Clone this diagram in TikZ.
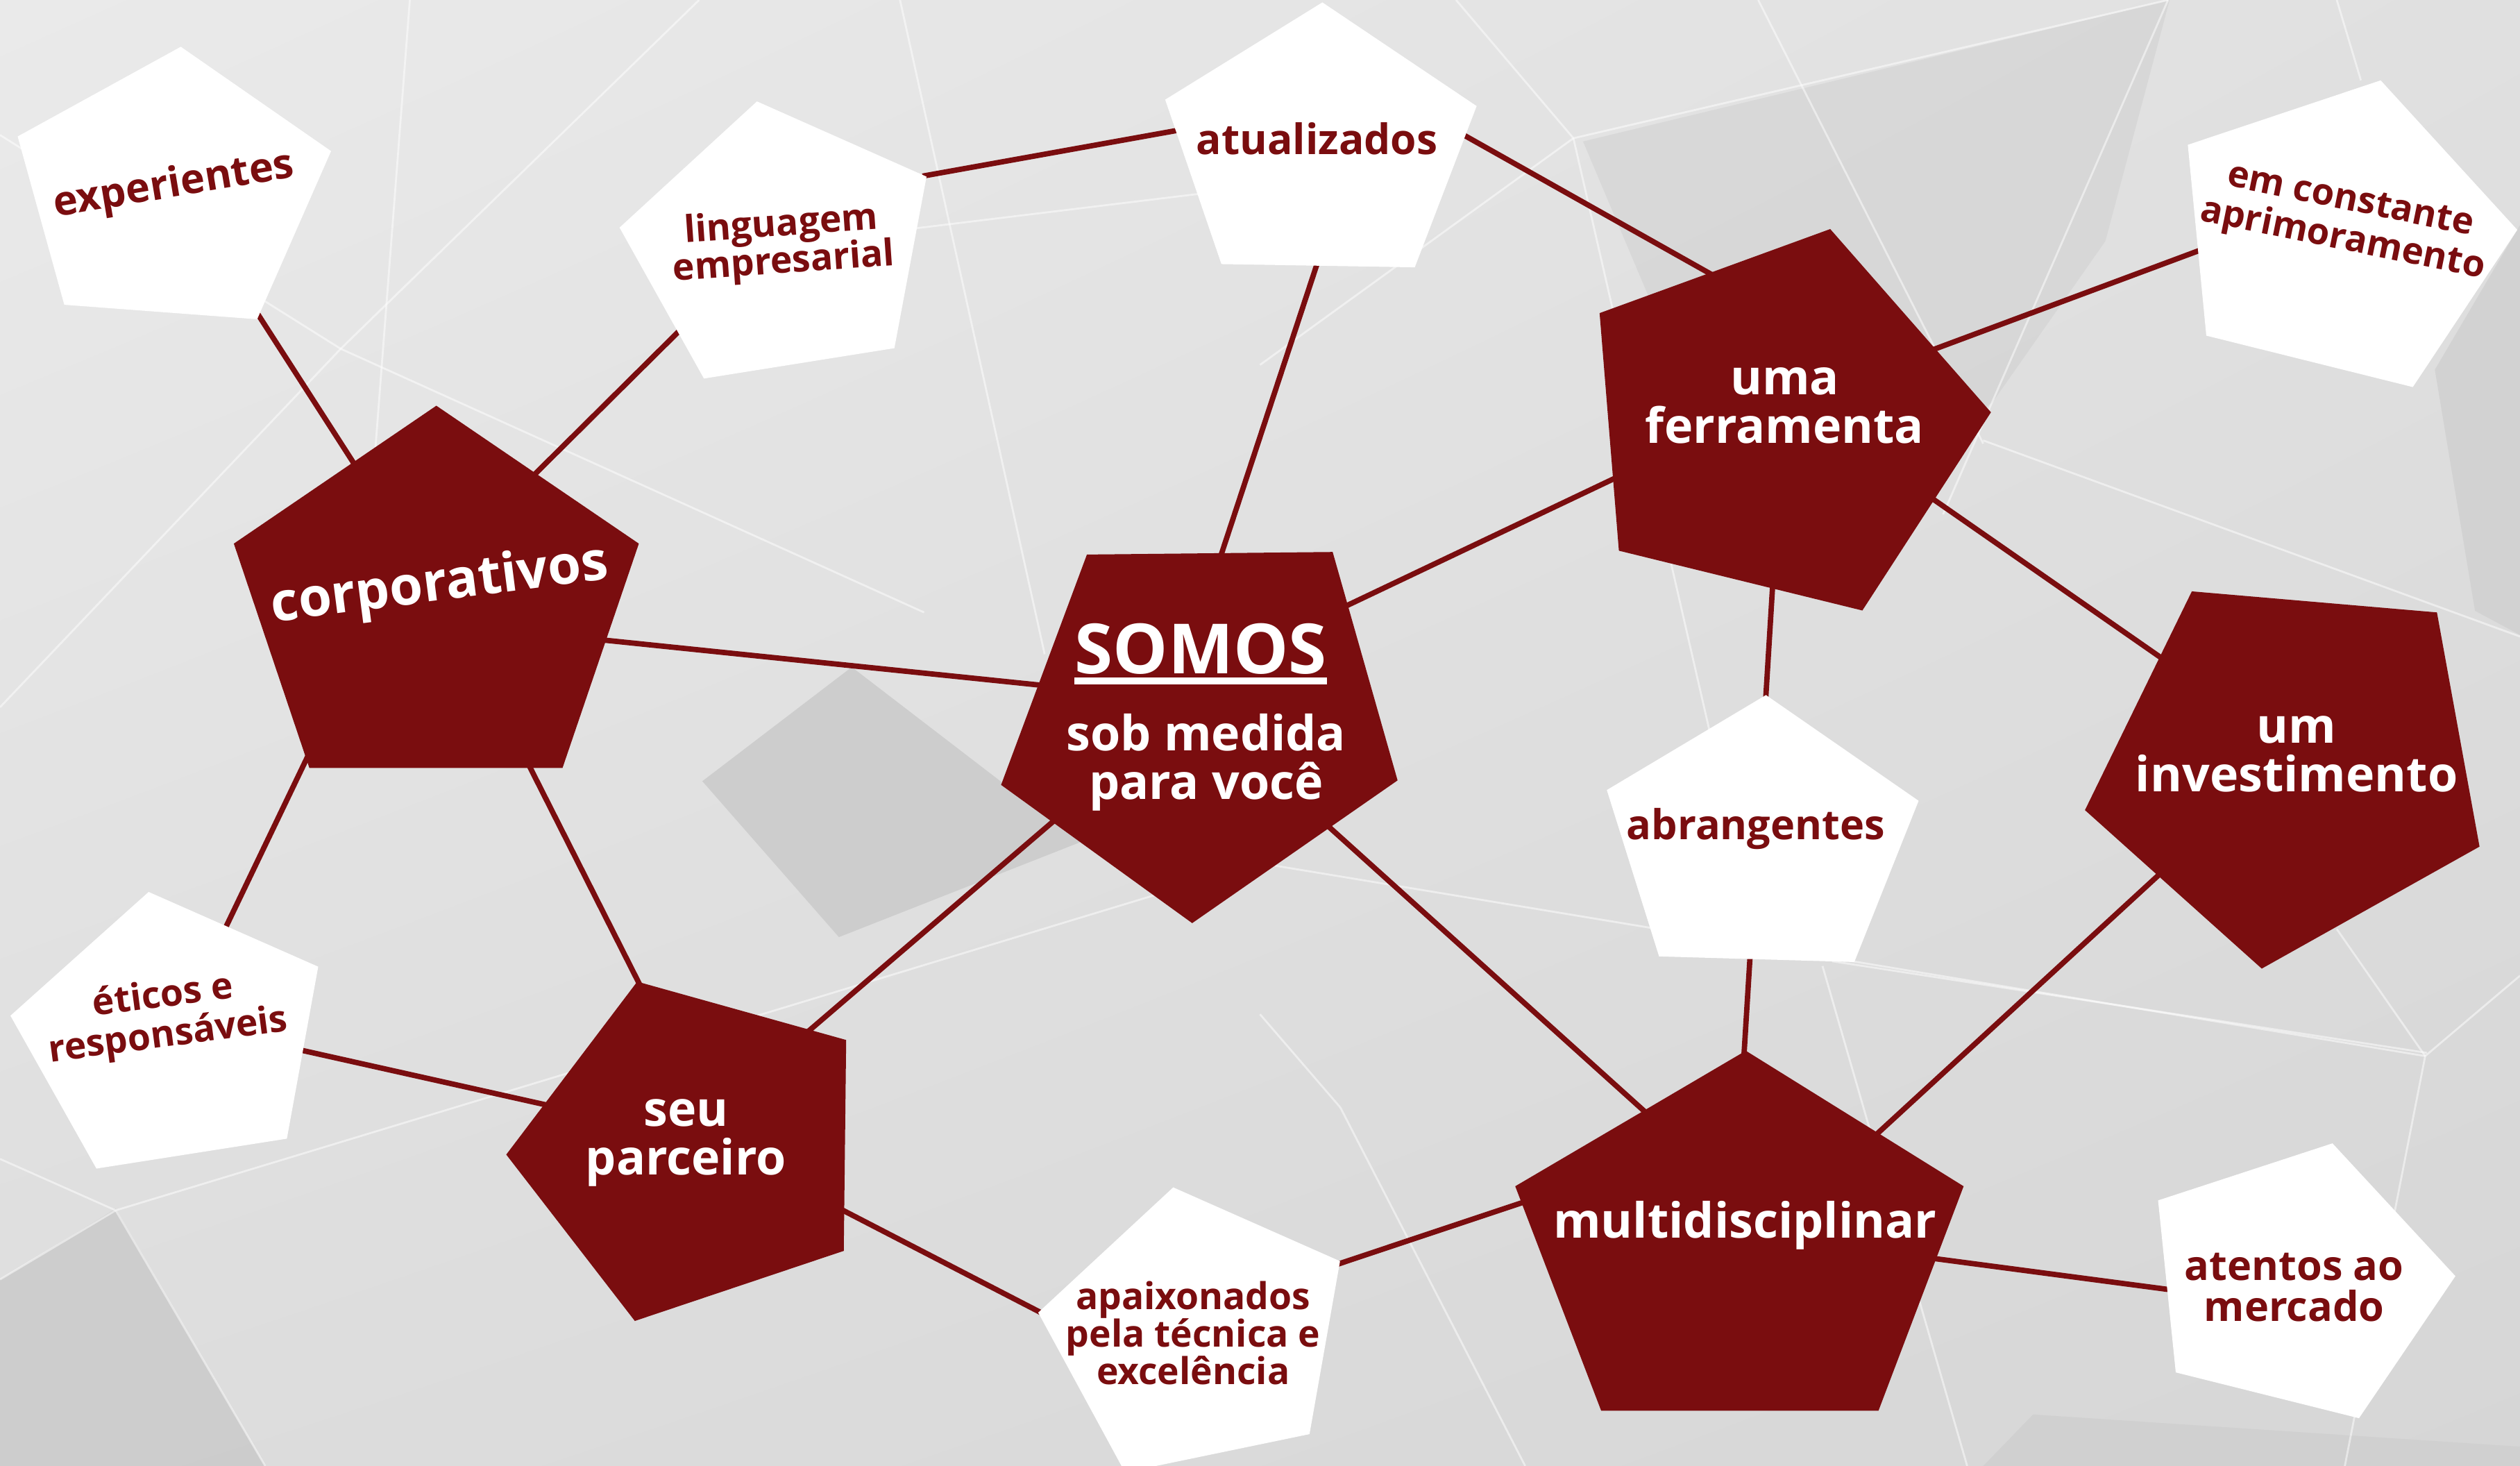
\documentclass[tikz,border=0pt]{standalone}
\usepackage{fontspec}
\setmainfont{Open Sans}
\usetikzlibrary{calc,shadings}
\definecolor{redc}{RGB}{122,13,15}
\definecolor{bgA}{RGB}{234,234,234}
\definecolor{bgB}{RGB}{224,224,224}
\definecolor{bgC}{RGB}{221,221,221}
\definecolor{bgD}{RGB}{214,214,214}
\definecolor{facet}{RGB}{201,201,201}
\definecolor{facetb}{RGB}{208,208,208}
\newcommand\lblfont[2]{\bfseries\fontsize{#1}{#2}\selectfont}
\begin{document}
\begin{tikzpicture}[x=0.023157cm,y=-0.023157cm,
  conn/.style={draw=redc,line width=2.2pt,shorten <=-4pt,shorten >=-4pt},
  redpent/.style={fill=redc},
  whitepent/.style={fill=white},
  redlbl/.style={text=white,font=\lblfont{19.9}{20},align=center,inner sep=0pt},
  whitelbl/.style={text=redc,font=\lblfont{15.2}{15.4},align=center,inner sep=0pt},
  whitebig/.style={text=redc,font=\lblfont{16.9}{16.9},align=center,inner sep=0pt},
  bgline/.style={draw=white,line width=0.8pt,opacity=0.5}]
\useasboundingbox (0,0) rectangle (1568,912);
\clip (0,0) rectangle (1568,912);
% background
\shade[upper left=bgA,upper right=bgB,lower left=bgC,lower right=bgD] (0,0) rectangle (1568,912);
\fill[facet,opacity=0.8] (530,415) -- (672,524) -- (522,583) -- (437,486) -- cycle;
\fill[facetb,opacity=0.55] (985,88) -- (1350,0) -- (1310,150) -- (1240,250) -- (1100,360) -- cycle;
\fill[facetb,opacity=0.8] (1568,140) -- (1568,395) -- (1540,380) -- (1515,230) -- cycle;
\fill[facet,opacity=0.8] (0,796) -- (72,752) -- (165,912) -- (0,912) -- cycle;
\fill[facetb] (1234,912) -- (1265,880) -- (1568,900) -- (1568,912) -- cycle;
\foreach \ax/\ay/\bx/\by in {906/0/979/86, 979/86/1349/0, 979/86/1064/456, 979/86/784/227,
  1094/0/1234/276, 1349/0/1209/320, 1234/274/1568/396, 1454/0/1469/50,
  72/753/784/537, 784/537/1509/657, 72/753/0/721, 72/753/0/796, 72/753/165/912,
  1509/657/1568/607, 1509/657/1459/912, 1509/657/1454/578,
  834/689/784/631, 834/689/949/912, 1134/601/1224/912,
  212/217/435/0, 212/217/0/84, 212/217/575/381, 212/217/0/440,
  560/0/650/407, 570/142/784/116, 255/0/220/456, 1140/598/1510/655}
  \draw[bgline] (\ax,\ay) -- (\bx,\by);
% connector end points
\coordinate (exp-corp) at (161,196.3);   \coordinate (corp-exp) at (220,288);
\coordinate (ling-corp) at (421.5,207);  \coordinate (corp-ling) at (333.5,294.3);
\coordinate (ling-atu) at (580,108.5);   \coordinate (atu-ling) at (731,81.4);
\coordinate (corp-som) at (377.5,398.4); \coordinate (som-corp) at (645,426);
\coordinate (atu-som) at (818.8,166.3);  \coordinate (som-atu) at (760.3,343.7);
\coordinate (atu-fer) at (911.3,84.3);   \coordinate (fer-atu) at (1063.8,170.1);
\coordinate (som-fer) at (838.8,376.4);  \coordinate (fer-som) at (1003.8,298);
\coordinate (fer-emc) at (1205.3,216.6); \coordinate (emc-fer) at (1365.3,157);
\coordinate (fer-inv) at (1203.8,311.2); \coordinate (inv-fer) at (1343.8,408.6);
\coordinate (fer-abr) at (1102.8,367);   \coordinate (abr-fer) at (1098.8,432.4);
\coordinate (abr-mul) at (1088.8,597);   \coordinate (mul-abr) at (1085.3,653.7);
\coordinate (som-mul) at (828.2,515.6);  \coordinate (mul-som) at (1021.8,690.1);
\coordinate (inv-mul) at (1341.3,546.1); \coordinate (mul-inv) at (1168.8,704.6);
\coordinate (mul-ate) at (1205.3,783.2); \coordinate (ate-mul) at (1343.8,801.5);
\coordinate (mul-apa) at (946.8,748.3);  \coordinate (apa-mul) at (833.8,786);
\coordinate (seu-apa) at (526.5,754);    \coordinate (apa-seu) at (646.5,816);
\coordinate (seu-som) at (504,640.7);    \coordinate (som-seu) at (655,511.3);
\coordinate (corp-seu) at (330,477.8);   \coordinate (seu-corp) at (396.5,609.5);
\coordinate (corp-eti) at (191.5,470.5); \coordinate (eti-corp) at (141,575.8);
\coordinate (eti-seu) at (189,653.7);    \coordinate (seu-eti) at (339,687.2);
% connectors
\draw[conn] (exp-corp) -- (corp-exp);
\draw[conn] (ling-corp) -- (corp-ling);
\draw[conn] (ling-atu) -- (atu-ling);
\draw[conn] (corp-som) -- (som-corp);
\draw[conn] (atu-som) -- (som-atu);
\draw[conn] (atu-fer) -- (fer-atu);
\draw[conn] (som-fer) -- (fer-som);
\draw[conn] (fer-emc) -- (emc-fer);
\draw[conn] (fer-inv) -- (inv-fer);
\draw[conn] (fer-abr) -- (abr-fer);
\draw[conn] (abr-mul) -- (mul-abr);
\draw[conn] (som-mul) -- (mul-som);
\draw[conn] (inv-mul) -- (mul-inv);
\draw[conn] (mul-ate) -- (ate-mul);
\draw[conn] (mul-apa) -- (apa-mul);
\draw[conn] (seu-apa) -- (apa-seu);
\draw[conn] (seu-som) -- (som-seu);
\draw[conn] (corp-seu) -- (seu-corp);
\draw[conn] (corp-eti) -- (eti-corp);
\draw[conn] (eti-seu) -- (seu-eti);
% pentagons
\fill[whitepent] (112.5,29.1) -- (206,94) -- (160,198.6) -- (40,189.6) -- (11,84.9) -- cycle;
\fill[whitepent] (471,63.1) -- (576.5,109.9) -- (556.5,216.6) -- (438,235.5) -- (385.5,141.6) -- cycle;
\fill[whitepent] (822.8,1.5) -- (918.8,66) -- (880.3,166.3) -- (760,164.3) -- (725,62) -- cycle;
\fill[redpent] (271.5,252.4) -- (397.5,338.2) -- (350,477.8) -- (192.5,477.8) -- (145.5,338.2) -- cycle;
\fill[redpent] (676.3,345) -- (829.2,343.4) -- (869.6,485.5) -- (741.8,574.3) -- (622.9,488.3) -- cycle;
\fill[redpent] (1138.8,142.5) -- (1238.8,256.5) -- (1158.8,379.8) -- (1007.3,342.6) -- (995.3,194.8) -- cycle;
\fill[whitepent] (1481.3,50) -- (1566.3,143) -- (1501.3,240.8) -- (1372.8,208.8) -- (1361.3,90.1) -- cycle;
\fill[redpent] (1363.8,367.9) -- (1516.3,381) -- (1542.8,526.7) -- (1407.3,602.6) -- (1297.3,504) -- cycle;
\fill[whitepent] (1098.8,432.4) -- (1193.8,498.2) -- (1153.8,598.5) -- (1032.3,595) -- (999.8,491.5) -- cycle;
\fill[redpent] (1086.3,653.7) -- (1221.8,738) -- (1168.8,877.7) -- (996.3,877.7) -- (942.8,738) -- cycle;
\fill[whitepent] (1451.3,711.3) -- (1527.8,793.9) -- (1467.8,882.3) -- (1353.8,853.8) -- (1342.8,746.8) -- cycle;
\fill[whitepent] (730,738.7) -- (833.8,784.6) -- (814.8,892.2) -- (700,916) -- (646,816.6) -- cycle;
\fill[redpent] (396.5,610.7) -- (526.5,647) -- (525,778.2) -- (395,821.8) -- (315,718.3) -- cycle;
\fill[whitepent] (92.5,554.9) -- (198,601.4) -- (178.5,708.4) -- (60,727) -- (6.5,631.9) -- cycle;
% labels
\node[whitebig,rotate=9.5,anchor=base] (exp) at (109.3,122.4) {experientes};
\node[whitelbl,rotate=4] (ling) at (486.9,152.3) {linguagem\\empresarial};
\node[whitebig,font=\lblfont{17.2}{17.2},anchor=base] (atu) at (819.4,96) {atualizados};
\node[redlbl,font=\lblfont{22.1}{22.1},rotate=7.3,anchor=base] (corp) at (274.7,373.5) {corporativos};
\node[redlbl,font=\lblfont{28.4}{28.4},anchor=base] (somos) at (747.2,419) {SOMOS};
\draw[white,line width=2.7pt] ([yshift=-3pt]somos.base west) -- ([yshift=-3pt]somos.base east);
\node[redlbl] (sob) at (750.5,474.3) {sob medida\\para você};
\node[redlbl] (ferr) at (1110.5,252.5) {uma\\ferramenta};
\node[whitelbl,font=\lblfont{15}{16.3},rotate=-11.5] (emc) at (1459.8,138.2) {em constante\\aprimoramento};
\node[redlbl] (inv) at (1429,469.1) {um\\investimento};
\node[whitebig,anchor=base] (abr) at (1092.5,522.3) {abrangentes};
\node[redlbl,anchor=base] (multi) at (1085.8,770.1) {multidisciplinar};
\node[whitebig] (aten) at (1427.5,801) {atentos ao\\mercado};
\node[whitelbl] (apai) at (742.4,829.4) {apaixonados\\pela técnica e\\excelência};
\node[redlbl] (seu) at (426.8,711) {seu\\parceiro};
\node[whitelbl,font=\lblfont{15.2}{16.3},rotate=7.5] (etic) at (103.1,632.7) {éticos e\\responsáveis};
\end{tikzpicture}
\end{document}
